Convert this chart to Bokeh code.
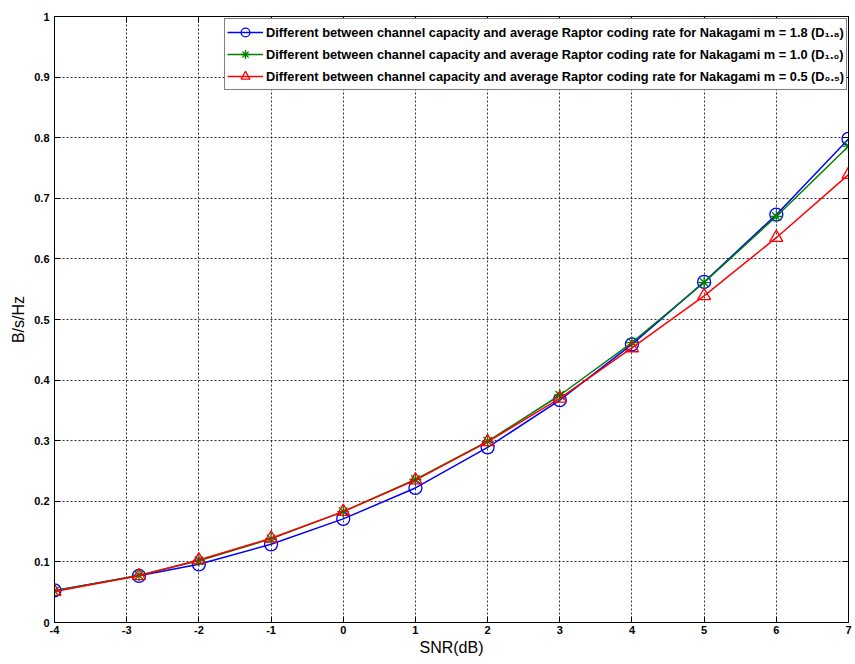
from bokeh.plotting import figure
from bokeh.models import Range1d, LinearAxis, FixedTicker, Legend, LegendItem
from bokeh.embed import file_html
from bokeh.resources import INLINE

# SNR points (dB)
snr_db = [-4, -2.83, -2, -1, 0, 1, 2, 3, 4, 5, 6, 7]

# Gap between channel capacity and average Raptor coding rate (B/s/Hz)
d_m18 = [0.053, 0.077, 0.096, 0.129, 0.171, 0.222, 0.289, 0.367, 0.459, 0.562, 0.673, 0.798]
d_m10 = [0.052, 0.078, 0.102, 0.138, 0.183, 0.236, 0.299, 0.375, 0.462, 0.561, 0.670, 0.786]
d_m05 = [0.051, 0.077, 0.103, 0.139, 0.183, 0.235, 0.298, 0.370, 0.453, 0.539, 0.635, 0.739]

x_ticks = [-4, -3, -2, -1, 0, 1, 2, 3, 4, 5, 6, 7]
x_tick_labels = ["-4", "-3", "-2", "-1", "0", "1", "2", "3", "4", "5", "6", "7"]
y_ticks = [0.0, 0.1, 0.2, 0.3, 0.4, 0.5, 0.6, 0.7, 0.8, 0.9, 1.0]
y_tick_labels = ["0", "0.1", "0.2", "0.3", "0.4", "0.5", "0.6", "0.7", "0.8", "0.9", "1"]

legend_text = "Different between channel capacity and average Raptor coding rate for Nakagami m = "
series = [
    ("1.8", "D\u2081.\u2088", d_m18, "#0000ff", "circle", 13),
    ("1.0", "D\u2081.\u2080", d_m10, "#008000", "asterisk", 12),
    ("0.5", "D\u2080.\u2085", d_m05, "#ff0000", "triangle", 13),
]

FONT = "Liberation Sans"

p = figure(width=855, height=664, output_backend="svg", toolbar_location=None,
           x_range=Range1d(-4, 7), y_range=Range1d(0, 1),
           min_border_left=54, min_border_right=7, min_border_top=16, min_border_bottom=42,
           background_fill_color="white", border_fill_color="white",
           outline_line_color="#000000", outline_line_width=1)

# grid: dotted, on every tick
for g in (p.xgrid, p.ygrid):
    g.grid_line_color = "#000000"
    g.grid_line_dash = "2 2"
    g.grid_line_width = 1
    g.grid_line_alpha = 0.8
p.xgrid.ticker = FixedTicker(ticks=x_ticks)
p.ygrid.ticker = FixedTicker(ticks=y_ticks)

def style_axis(ax, ticks):
    ax.ticker = FixedTicker(ticks=ticks)
    ax.axis_line_color = "#000000"
    ax.major_tick_line_color = "#000000"
    ax.major_tick_in = 6
    ax.major_tick_out = 0
    ax.minor_tick_line_color = None
    ax.major_label_text_font = FONT
    ax.major_label_text_font_style = "bold"
    ax.major_label_text_font_size = "11px"
    ax.major_label_text_color = "#000000"
    ax.axis_label_text_font = FONT
    ax.axis_label_text_font_style = "normal"
    ax.axis_label_text_font_size = "16px"
    ax.axis_label_text_color = "#000000"

style_axis(p.xaxis[0], x_ticks)
style_axis(p.yaxis[0], y_ticks)
p.xaxis[0].axis_label = "SNR(dB)"
p.xaxis[0].major_label_standoff = 3
p.xaxis[0].axis_label_standoff = 2
p.xaxis[0].major_label_overrides = {t: s for t, s in zip(x_ticks, x_tick_labels)}
p.yaxis[0].axis_label = "B/s/Hz"
p.yaxis[0].major_label_standoff = 5
p.yaxis[0].axis_label_standoff = 4
p.yaxis[0].major_label_overrides = {t: s for t, s in zip(y_ticks, y_tick_labels)}

# box: top and right axes with inward ticks and blank labels
top_ax = LinearAxis()
right_ax = LinearAxis()
style_axis(top_ax, x_ticks)
style_axis(right_ax, y_ticks)
top_ax.major_label_overrides = {t: "" for t in x_ticks}
right_ax.major_label_overrides = {t: "" for t in y_ticks}
for ax in (top_ax, right_ax):
    ax.major_label_standoff = 0
p.add_layout(top_ax, "above")
p.add_layout(right_ax, "right")

items = []
for m, sub, vals, color, marker, size in series:
    r_line = p.line(snr_db, vals, line_color=color, line_width=1.5)
    r_mark = p.scatter(snr_db, vals, marker=marker, size=size, fill_color=None,
                       line_color=color, line_width=1.3)
    items.append(LegendItem(label=legend_text + m + " (" + sub + ")",
                            renderers=[r_line, r_mark]))

legend = Legend(items=items, location=(170, 532),
                label_text_font=FONT, label_text_font_style="bold",
                label_text_font_size="12.8px", label_text_color="#000000",
                label_standoff=3, glyph_width=36, glyph_height=22,
                spacing=0, padding=2, margin=0,
                border_line_color="#000000", border_line_width=1,
                background_fill_color="white", background_fill_alpha=1.0)
p.add_layout(legend, "center")

open("out.html", "w").write(file_html(p, INLINE))
